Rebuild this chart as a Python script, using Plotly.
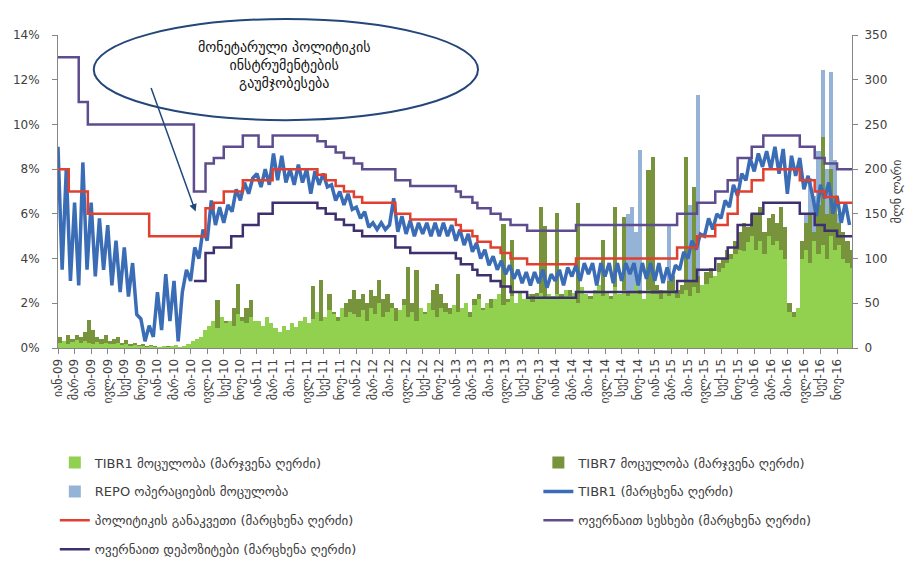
import numpy as np
import plotly.graph_objects as go

# ---------------- data ----------------
# time is measured in months since January 2009
months_ka = ["იან", "თებ", "მარ", "აპრ", "მაი", "ივნ", "ივლ", "აგვ", "სექ", "ოქტ", "ნოე", "დეკ"]
tick_months = list(range(0, 95, 2))
tick_labels = [f"{months_ka[p % 12]}-{9 + p // 12:02d}" for p in tick_months]

# half-month sampling grid (192 samples, Jan-2009 .. Dec-2016)
half_month = np.arange(192) * 0.5

# TIBR1 interbank rate, % (left axis)
tibr1_rate = [
    9.0, 3.5, 8.0, 3.0, 6.5, 2.8, 8.3, 3.5, 6.5, 3.2, 5.8, 3.5, 5.5, 2.8, 4.8, 2.5, 4.5, 2.3, 3.8, 1.5, 1.3, 0.3, 1.0, 0.5,
    2.5, 0.8, 3.3, 1.2, 3.0, 0.3, 2.5, 3.5, 3.0, 4.5, 4.0, 5.3, 4.8, 6.6, 5.5, 6.3, 5.6, 6.4, 6.1, 7.1, 6.6, 7.4, 6.9, 7.6,
    7.8, 7.2, 8.0, 7.3, 8.7, 7.5, 8.6, 7.4, 8.0, 7.3, 8.2, 7.4, 8.0, 6.9, 7.9, 7.3, 7.8, 7.2, 7.3, 6.6, 7.0, 6.4, 6.9, 6.2,
    6.3, 5.8, 6.1, 5.4, 5.6, 5.3, 5.6, 5.3, 5.5, 6.7, 5.2, 5.9, 5.1, 5.7, 5.0, 5.6, 5.1, 5.6, 5.0, 5.6, 5.0, 5.6, 5.0, 5.5,
    4.8, 5.3, 4.6, 5.1, 4.3, 4.7, 4.0, 4.4, 3.7, 4.1, 3.5, 3.9, 3.3, 3.7, 3.1, 3.5, 2.9, 3.4, 2.8, 3.4, 2.9, 3.5, 2.7, 3.3,
    3.0, 3.5, 2.8, 3.6, 3.2, 3.7, 3.0, 3.8, 3.3, 3.8, 2.8, 3.8, 3.2, 3.8, 2.9, 3.8, 3.0, 3.8, 3.3, 3.8, 2.8, 3.8, 3.1, 3.8,
    3.0, 3.8, 2.9, 3.6, 3.0, 3.7, 3.5, 4.3, 4.0, 4.8, 4.4, 5.1, 5.0, 5.8, 5.3, 6.0, 5.8, 6.6, 6.3, 7.3, 6.8, 7.8, 7.5, 8.5,
    7.9, 8.7, 8.1, 8.8, 8.0, 9.0, 7.8, 8.9, 6.9, 8.6, 7.7, 8.5, 7.1, 7.7, 6.9, 5.9, 7.3, 6.7, 7.4, 6.0, 6.8, 5.6, 6.5, 5.5,
]

# TIBR1 volume, mln GEL (right axis)
tibr1_vol = [
    6, 8, 5, 7, 9, 6, 8, 6, 5, 7, 4, 6, 5, 4, 6, 3, 5, 2, 3, 2, 2, 1, 2, 1,
    1, 2, 1, 2, 3, 1, 2, 4, 8, 10, 12, 20, 25, 30, 22, 35, 28, 30, 25, 38, 30, 28, 35, 30,
    30, 25, 35, 28, 22, 18, 25, 20, 28, 24, 30, 35, 28, 32, 40, 30, 35, 42, 38, 30, 45, 35, 40, 38,
    35, 42, 30, 45, 38, 50, 35, 40, 45, 30, 42, 48, 35, 40, 30, 45, 38, 50, 42, 35, 45, 40, 38, 48,
    40, 45, 50, 35, 48, 55, 42, 50, 45, 55, 60, 48, 52, 58, 50, 62, 55, 60, 52, 58, 62, 55, 60, 58,
    60, 55, 65, 58, 62, 50, 68, 60, 55, 65, 70, 58, 62, 55, 68, 60, 65, 58, 62, 70, 60, 55, 65, 60,
    60, 55, 65, 58, 62, 56, 60, 65, 58, 68, 62, 70, 72, 78, 80, 85, 90, 95, 100, 105, 110, 108, 118, 125,
    110, 120, 105, 125, 115, 120, 110, 100, 40, 35, 45, 100, 110, 95, 120, 105, 115, 100, 125, 110, 115, 100, 95, 90,
]

# TIBR7 volume, mln GEL (right axis)
tibr7_vol = [
    12, 8, 14, 10, 15, 12, 18, 31, 20, 12, 10, 14, 8, 10, 12, 6, 9, 5, 6, 3, 4, 2, 3, 2,
    1, 1, 2, 1, 2, 1, 1, 2, 4, 6, 8, 20, 18, 25, 54, 30, 30, 25, 45, 72, 35, 45, 54, 30,
    25, 20, 30, 22, 18, 15, 20, 18, 24, 20, 22, 28, 25, 69, 30, 76, 35, 60, 40, 35, 45, 50, 55, 65,
    55, 60, 50, 65, 58, 76, 55, 60, 50, 45, 40, 55, 91, 50, 87, 45, 40, 50, 65, 72, 60, 50, 45, 40,
    83, 45, 50, 40, 55, 60, 45, 50, 55, 48, 60, 139, 55, 121, 50, 60, 55, 58, 60, 62, 158, 136, 60, 55,
    151, 60, 55, 65, 58, 162, 60, 55, 58, 62, 55, 121, 60, 58, 158, 55, 147, 62, 58, 70, 65, 55, 199, 214,
    70, 65, 60, 75, 80, 65, 70, 214, 75, 180, 80, 70, 85, 90, 80, 95, 100, 110, 105, 120, 130, 140, 135, 150,
    150, 158, 130, 145, 150, 140, 158, 135, 50, 40, 45, 120, 140, 150, 130, 160, 236, 150, 200, 170, 140, 130, 120, 110,
]

# REPO operations volume, mln GEL (right axis)
repo_2014 = [0] * 17 + [150, 158, 130, 221, 0, 0, 0]
repo_2015 = [0, 0, 0, 136, 0, 0, 0, 0, 160, 0, 283, 0, 0, 0, 0, 0, 0, 0, 0, 0, 0, 0, 0, 0]
repo_2016 = [0] * 12 + [150, 190, 170, 220, 311, 200, 309, 210, 150, 120, 0, 0]
repo_vol = [0] * 120 + repo_2014 + repo_2015 + repo_2016

# policy rate (step series), %
policy_t = [0, 1.3, 3.6, 11.0, 17.8, 18.8, 20.0, 22.3, 25.9, 31.3, 32.3, 33.5, 34.5, 35.7, 36.7,
            40.7, 42.5, 48.0, 48.6, 50.0, 50.6, 52.2, 53.4, 54.6, 56.6, 62.5, 74.7, 77.1, 79.3,
            80.8, 82.0, 83.7, 85.1, 89.5, 91.3, 92.5, 94.0, 95.8]
policy_v = [8.0, 7.0, 6.0, 5.0, 6.25, 6.5, 7.0, 7.5, 8.0, 7.75, 7.5, 7.25, 7.0, 6.75, 6.5,
            6.0, 5.75, 5.5, 5.25, 5.0, 4.75, 4.5, 4.25, 4.0, 3.75, 4.0, 4.5, 5.0, 5.5,
            6.0, 7.0, 7.5, 8.0, 7.5, 7.0, 6.75, 6.5, 6.5]

# overnight loans rate (upper corridor), %
loans_t = [0, 2.5, 3.6, 16.4, 17.8, 18.8, 20.0, 22.3, 24.2, 25.9, 31.3, 32.3, 33.5, 34.5, 35.7, 36.7,
           40.7, 42.5, 48.0, 48.6, 50.0, 50.6, 52.2, 53.4, 54.6, 56.6, 62.5, 74.7, 77.1, 79.3,
           80.8, 82.0, 83.7, 85.1, 89.5, 91.3, 92.5, 94.0, 95.8]
loans_v = [13.0, 11.0, 10.0, 7.0, 8.25, 8.5, 9.0, 9.5, 9.0, 9.5, 9.25, 9.0, 8.75, 8.5, 8.25, 8.0,
           7.5, 7.25, 7.0, 6.75, 6.5, 6.25, 6.0, 5.75, 5.5, 5.25, 5.5, 6.0, 6.5, 7.0,
           7.5, 8.5, 9.0, 9.5, 9.0, 8.5, 8.25, 8.0, 8.0]

# overnight deposits rate (lower corridor), %
dep_t = [16.4, 17.8, 18.8, 20.9, 22.3, 24.2, 25.9, 31.3, 32.3, 33.5, 34.5, 35.7, 36.7,
         40.7, 42.5, 48.0, 48.6, 50.0, 50.6, 52.2, 53.4, 54.6, 56.6, 62.5, 74.7, 77.1, 79.3,
         80.8, 82.0, 83.7, 85.1, 89.5, 91.3, 92.5, 94.0, 95.8]
dep_v = [3.0, 4.25, 4.5, 5.0, 5.5, 6.0, 6.5, 6.25, 6.0, 5.75, 5.5, 5.25, 5.0,
         4.5, 4.25, 4.0, 3.75, 3.5, 3.25, 3.0, 2.75, 2.5, 2.25, 2.5, 3.0, 3.5, 4.0,
         4.5, 5.5, 6.0, 6.5, 6.0, 5.5, 5.25, 5.0, 5.0]

names = {
    "tibr1_vol": "TIBR1 მოცულობა (მარჯვენა ღერძი)",
    "tibr7_vol": "TIBR7 მოცულობა (მარჯვენა ღერძი)",
    "repo": "REPO ოპერაციების მოცულობა",
    "tibr1": "TIBR1 (მარცხენა ღერძი)",
    "policy": "პოლიტიკის განაკვეთი (მარცხენა ღერძი)",
    "loans": "ოვერნაით სესხები (მარცხენა ღერძი)",
    "dep": "ოვერნაით დეპოზიტები (მარცხენა ღერძი)",
}
note_text = "მონეტარული პოლიტიკის<br>ინსტრუმენტების<br>გაუმჯობესება"

# ---------------- figure ----------------
bar_x = half_month + 0.25
fig = go.Figure()
fig.add_bar(x=bar_x, y=repo_vol, width=0.5, marker=dict(color="#95B3D7", line_width=0),
            name=names["repo"], yaxis="y", legend="legend", legendrank=2, legendgroup="g3")
fig.add_bar(x=bar_x, y=tibr7_vol, width=0.5, marker=dict(color="#77933C", line_width=0),
            name=names["tibr7_vol"], yaxis="y", legend="legend2", legendrank=1, legendgroup="g2")
fig.add_bar(x=bar_x, y=tibr1_vol, width=0.5, marker=dict(color="#92D050", line_width=0),
            name=names["tibr1_vol"], yaxis="y", legend="legend", legendrank=1, legendgroup="g1")

fig.add_scatter(x=half_month, y=tibr1_rate, mode="lines", line=dict(color="#3A6DB5", width=3.5),
                name=names["tibr1"], yaxis="y2", legend="legend2", legendrank=2, legendgroup="g4")
fig.add_scatter(x=policy_t, y=policy_v, mode="lines", line=dict(color="#E0402F", width=2.5, shape="hv"),
                name=names["policy"], yaxis="y2", legend="legend", legendrank=3, legendgroup="g5")
fig.add_scatter(x=loans_t, y=loans_v, mode="lines", line=dict(color="#5E4D8E", width=2.5, shape="hv"),
                name=names["loans"], yaxis="y2", legend="legend2", legendrank=3, legendgroup="g6")
fig.add_scatter(x=dep_t, y=dep_v, mode="lines", line=dict(color="#3E2F6E", width=2.5, shape="hv"),
                name=names["dep"], yaxis="y2", legend="legend", legendrank=4, legendgroup="g7")

axis_common = dict(showline=True, linecolor="#868686", linewidth=1, ticks="outside", ticklen=5,
                   tickcolor="#868686", showgrid=False, zeroline=False)

legend_common = dict(orientation="v", yanchor="top", y=-0.318, xanchor="left",
                     traceorder="grouped", tracegroupgap=9, bgcolor="rgba(0,0,0,0)",
                     font=dict(family="DejaVu Sans", size=13, color="#404040"))

# the page body adds an 8 px offset, so the figure is 8 px smaller on each side
fig.update_layout(
    width=916, height=555,
    margin=dict(l=50, r=72, t=27, b=215, autoexpand=False),
    paper_bgcolor="white", plot_bgcolor="white",
    barmode="overlay", bargap=0,
    font=dict(family="DejaVu Sans", size=11, color="#404040"),
    xaxis=dict(range=[0, 95.8], tickmode="array", tickvals=tick_months, ticktext=tick_labels,
               tickangle=-90, tickfont=dict(size=12, color="#404040"), **axis_common),
    yaxis=dict(side="right", range=[0, 350], dtick=50, tickfont=dict(size=12),
               title=dict(text="მლნ ლარი", font=dict(size=12), standoff=6), ticklabelstandoff=4,
               **axis_common),
    yaxis2=dict(overlaying="y", side="left", range=[0, 14], dtick=2, ticksuffix="%",
                tickfont=dict(size=12), ticklabelstandoff=10, **axis_common),
    legend=dict(x=-0.004, **legend_common),
    legend2=dict(x=0.605, **legend_common),
    showlegend=True,
)

# ellipse call-out with arrow
fig.add_shape(type="circle", xref="paper", yref="paper", x0=0.045, x1=0.529, y0=0.728, y1=1.051,
              line=dict(color="#24467A", width=2), fillcolor="rgba(0,0,0,0)", layer="above")
fig.add_annotation(xref="paper", yref="paper", x=0.285, y=0.904, xanchor="center", yanchor="middle",
                   text=note_text, showarrow=False,
                   font=dict(family="DejaVu Sans", size=14, color="#111111"), align="center")
fig.add_annotation(xref="x", yref="y2", x=16.6, y=6.1, ax=-45, ay=-125, text="", showarrow=True,
                   arrowhead=2, arrowsize=1, arrowwidth=1.5, arrowcolor="#1F497D")

fig.write_html("out.html")
